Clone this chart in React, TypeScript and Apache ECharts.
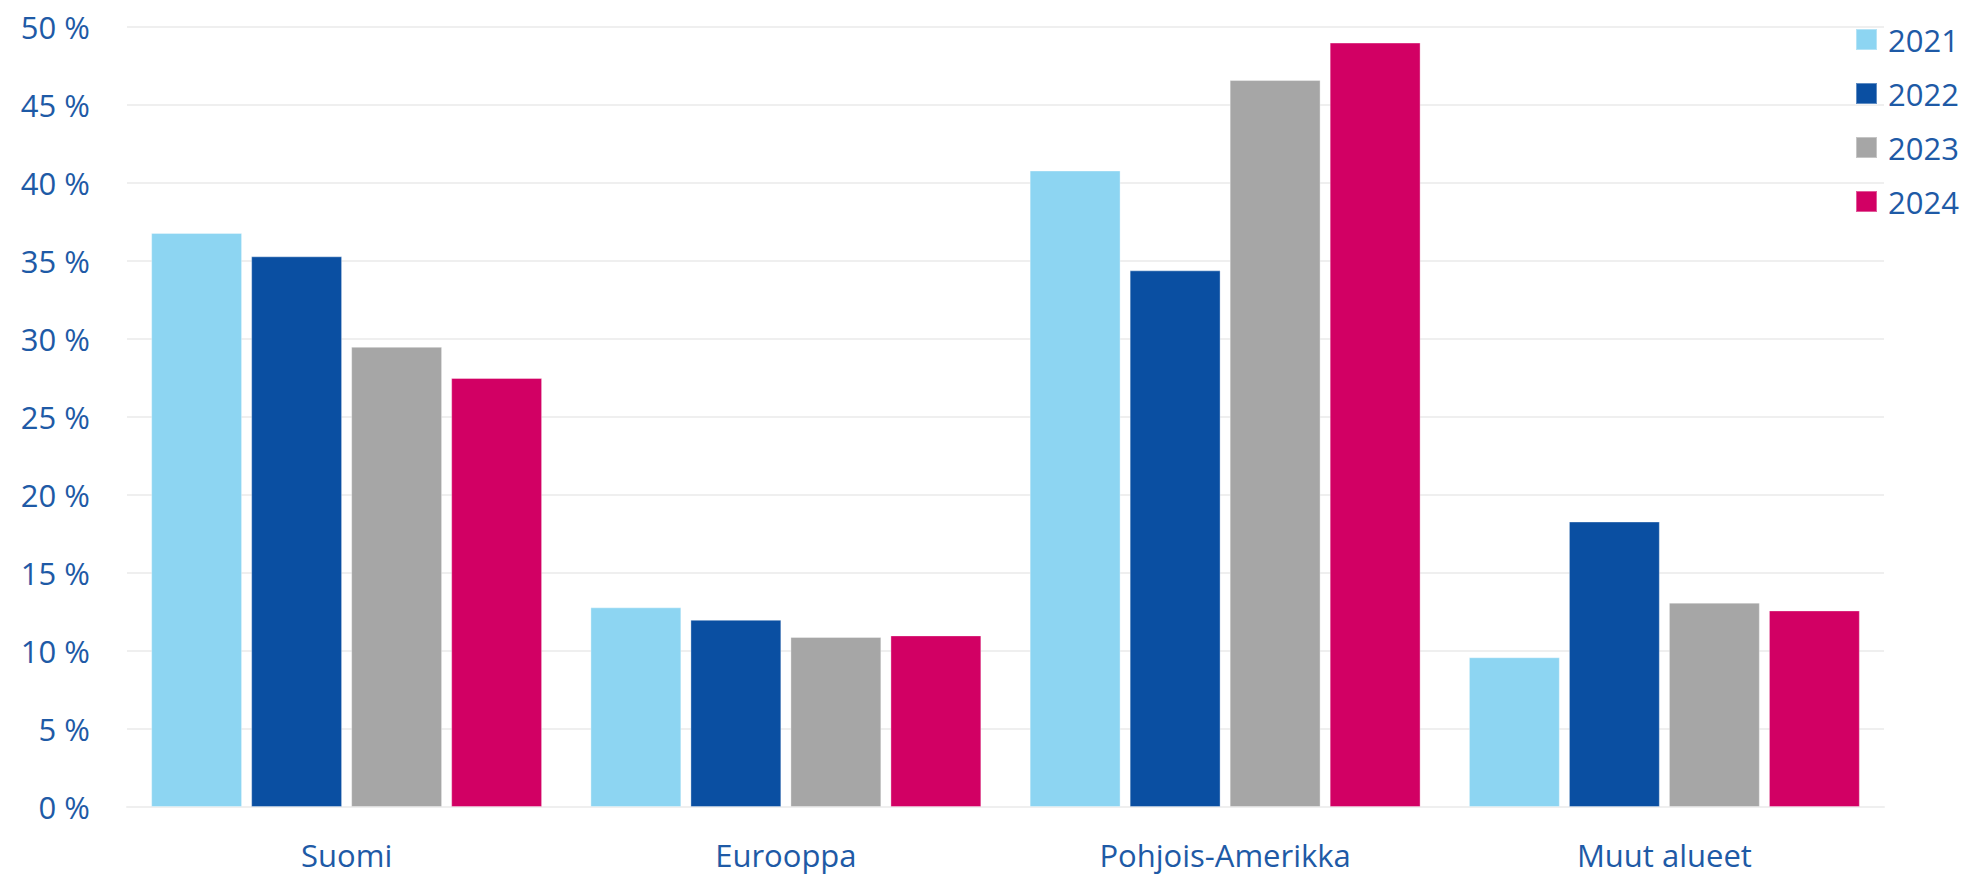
import React, { useEffect, useRef } from "react";
import * as echarts from "echarts";

const categories = ["Suomi", "Eurooppa", "Pohjois-Amerikka", "Muut alueet"];
const years = ["2021", "2022", "2023", "2024"];
const values2021 = [36.8, 12.8, 40.8, 9.6];
const values2022 = [35.3, 12.0, 34.4, 18.3];
const values2023 = [29.5, 10.9, 46.6, 13.1];
const values2024 = [27.5, 11.0, 49.0, 12.6];
const seriesValues = [values2021, values2022, values2023, values2024];
const colors = ["#8DD5F2", "#0A4FA2", "#A6A6A6", "#D20064"];

const TEXT = "#1E5AA6";
const FONT = "'Open Sans', 'Noto Sans', sans-serif";

export default function App() {
  const ref = useRef<HTMLDivElement>(null);
  useEffect(() => {
    document.body.style.margin = "0";
    if (!ref.current) return;
    const chart = echarts.init(ref.current, null, { renderer: "svg" });
    chart.setOption({
      animation: false,
      backgroundColor: "#ffffff",
      grid: { left: 127, right: 81, top: 27, bottom: 70, containLabel: false },
      legend: {
        data: years,
        orient: "vertical",
        left: 1850,
        top: 19,
        itemWidth: 21,
        itemHeight: 21,
        itemGap: 23,
        icon: "rect",
        textStyle: {
          color: TEXT,
          fontSize: 31,
          fontFamily: FONT,
          padding: [0, 0, 0, 6],
        },
      },
      xAxis: {
        type: "category",
        data: categories,
        axisLine: { show: true, lineStyle: { color: "#EFEFEF", width: 2 } },
        axisTick: { show: false },
        axisLabel: {
          color: TEXT,
          fontSize: 31,
          fontFamily: FONT,
          margin: 32,
        },
      },
      yAxis: {
        type: "value",
        min: 0,
        max: 50,
        interval: 5,
        axisLine: { show: false },
        axisTick: { show: false },
        splitLine: { lineStyle: { color: "#EFEFEF", width: 2 } },
        axisLabel: {
          formatter: "{value} %",
          color: TEXT,
          fontSize: 31,
          fontFamily: FONT,
          margin: 37,
        },
      },
      series: years.map((y, i) => ({
        name: y,
        type: "bar",
        data: seriesValues[i],
        barGap: "10%",
        barCategoryGap: "11%",
        itemStyle: {
          color: colors[i],
          borderColor: "rgba(255,255,255,0.35)",
          borderWidth: 1,
        },
      })),
    });
    return () => chart.dispose();
  }, []);
  return (
    <div
      ref={ref}
      style={{ position: "fixed", left: 0, top: 0, width: 1965, height: 877 }}
    />
  );
}
